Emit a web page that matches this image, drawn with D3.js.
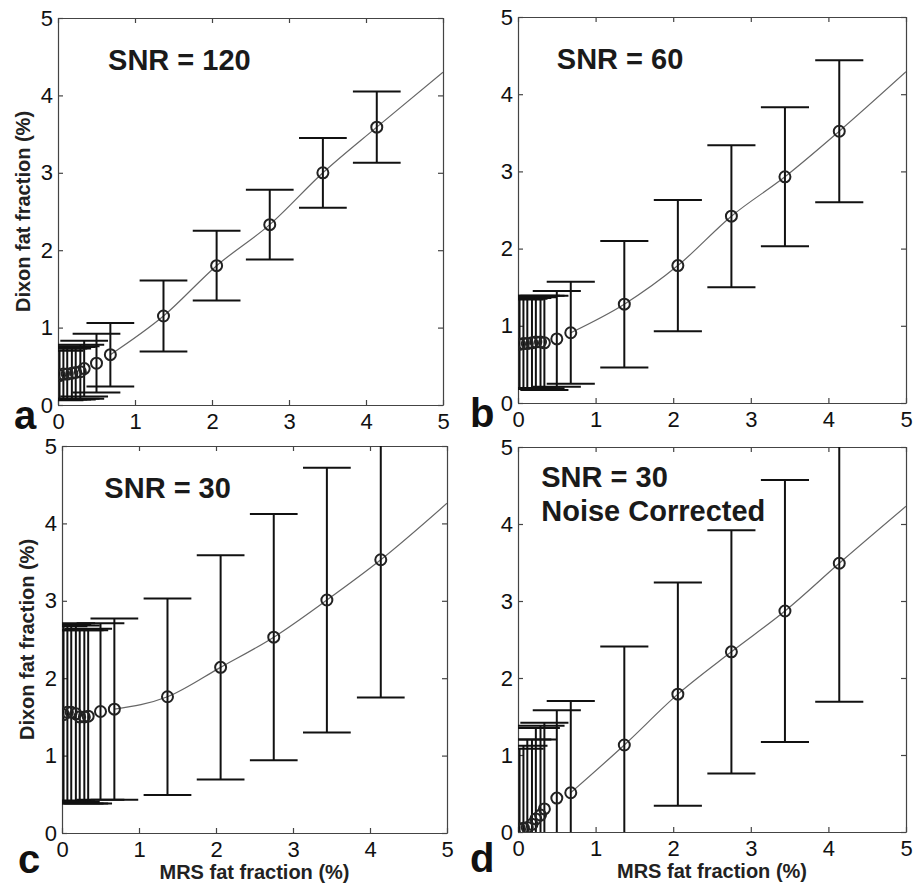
<!DOCTYPE html>
<html>
<head>
<meta charset="utf-8">
<script src="https://cdn.jsdelivr.net/npm/d3@7"></script>
<style>
  body { margin: 0; background: #fff; }
  svg { display: block; font-family: "Liberation Sans", Arial, sans-serif; }
</style>
</head>
<body>
<svg id="chart" width="915" height="891"></svg>
<script>
// MRS fat fraction (%) of each simulated sample, shared by all panels
const mrsFraction = [0.02, 0.07, 0.12, 0.18, 0.23, 0.29, 0.34, 0.5, 0.68, 1.37, 2.06, 2.75, 3.44, 4.14];

// Dixon fat fraction: mean and standard deviation per sample
const meanSnr120 = [0.38, 0.40, 0.40, 0.41, 0.42, 0.43, 0.47, 0.54, 0.65, 1.15, 1.80, 2.33, 3.00, 3.59];
const sdSnr120   = [0.32, 0.33, 0.33, 0.34, 0.34, 0.35, 0.36, 0.38, 0.41, 0.46, 0.45, 0.45, 0.45, 0.46];

const meanSnr60 = [0.76, 0.77, 0.77, 0.78, 0.79, 0.79, 0.78, 0.83, 0.91, 1.28, 1.78, 2.42, 2.93, 3.52];
const sdSnr60   = [0.58, 0.58, 0.59, 0.59, 0.60, 0.60, 0.61, 0.62, 0.66, 0.82, 0.85, 0.92, 0.90, 0.92];

const meanSnr30 = [1.53, 1.56, 1.56, 1.54, 1.50, 1.50, 1.51, 1.57, 1.60, 1.76, 2.14, 2.53, 3.01, 3.53];
const sdSnr30   = [1.14, 1.14, 1.15, 1.14, 1.12, 1.12, 1.13, 1.14, 1.17, 1.27, 1.45, 1.59, 1.71, 1.78];

const meanCorrected = [0.04, 0.05, 0.06, 0.10, 0.17, 0.22, 0.30, 0.44, 0.51, 1.13, 1.79, 2.34, 2.87, 3.49];
const sdCorrected   = [1.04, 1.07, 1.14, 1.10, 1.18, 1.16, 1.12, 1.14, 1.19, 1.28, 1.45, 1.58, 1.70, 1.80];

// fitted curve: starts at this sample and runs to x = 5
const fitStart = 8;
const fitEndX = 5;
const fitEndY = [4.30, 4.29, 4.26, 4.23];

const panelTitles = [['SNR = 120'], ['SNR = 60'], ['SNR = 30'], ['SNR = 30', 'Noise Corrected']];
const panelLetters = ['a', 'b', 'c', 'd'];
const axisTicks = [0, 1, 2, 3, 4, 5];
const xLabel = 'MRS fat fraction (%)';
const yLabel = 'Dixon fat fraction (%)';

const means = [meanSnr120, meanSnr60, meanSnr30, meanCorrected];
const sds = [sdSnr120, sdSnr60, sdSnr30, sdCorrected];

// panel frames in pixels
const frames = [
    {left: 58, right: 443, top: 18, bottom: 405, titleX: 0.65, yTitle: true, xTitle: false},
    {left: 518, right: 906, top: 17, bottom: 403, titleX: 0.5, yTitle: false, xTitle: false},
    {left: 62, right: 447, top: 446, bottom: 833, titleX: 0.55, yTitle: true, xTitle: true},
    {left: 518, right: 906, top: 447, bottom: 832, titleX: 0.3, yTitle: false, xTitle: true}
];

const svg = d3.select('#chart');
const capHalf = 0.31;   // error bar tee half width, data units
const tickLen = 5;

frames.forEach(function (f, p) {
    const x = d3.scaleLinear().domain([0, 5]).range([f.left, f.right]);
    const y = d3.scaleLinear().domain([0, 5]).range([f.bottom, f.top]);
    const g = svg.append('g');

    const clipId = 'clip' + p;
    svg.append('clipPath').attr('id', clipId)
        .append('rect')
        .attr('x', f.left).attr('y', f.top)
        .attr('width', f.right - f.left).attr('height', f.bottom - f.top);

    // axes, MATLAB style: inward ticks on all four sides
    const fmt = d3.format('d');
    const axes = [
        d3.axisBottom(x).tickValues(axisTicks).tickFormat(fmt).tickSizeInner(-tickLen).tickSizeOuter(0).tickPadding(8),
        d3.axisLeft(y).tickValues(axisTicks).tickFormat(fmt).tickSizeInner(-tickLen).tickSizeOuter(0).tickPadding(5),
        d3.axisTop(x).tickValues(axisTicks).tickSizeInner(-tickLen).tickSizeOuter(0).tickFormat(''),
        d3.axisRight(y).tickValues(axisTicks).tickSizeInner(-tickLen).tickSizeOuter(0).tickFormat('')
    ];
    const shifts = [[0, f.bottom], [f.left, 0], [0, f.top], [f.right, 0]];
    axes.forEach(function (ax, i) {
        const a = g.append('g')
            .attr('transform', 'translate(' + shifts[i][0] + ',' + shifts[i][1] + ')')
            .call(ax);
        a.select('.domain').attr('stroke', '#444').attr('stroke-width', 1.2);
        a.selectAll('.tick line').attr('stroke', '#444').attr('stroke-width', 1.2);
        a.selectAll('.tick text')
            .attr('font-size', 22)
            .attr('fill', '#111')
            .attr('font-family', '"Liberation Sans", Arial, sans-serif');
    });

    const plot = g.append('g').attr('clip-path', 'url(#' + clipId + ')');
    const rows = mrsFraction.map(function (m, i) {
        return {x: m, mean: means[p][i], sd: sds[p][i]};
    });

    // fitted curve
    const fitRows = rows.slice(fitStart).map(function (r) { return [r.x, r.mean]; });
    fitRows.push([fitEndX, fitEndY[p]]);
    plot.append('path')
        .datum(fitRows)
        .attr('fill', 'none')
        .attr('stroke', '#666')
        .attr('stroke-width', 1.2)
        .attr('d', d3.line()
            .x(function (d) { return x(d[0]); })
            .y(function (d) { return y(d[1]); })
            .curve(d3.curveMonotoneX));

    // error bars
    const bars = plot.selectAll('g.bar').data(rows).enter().append('g').attr('class', 'bar')
        .attr('stroke', '#111').attr('stroke-width', 2);
    bars.append('line')
        .attr('x1', function (d) { return x(d.x); })
        .attr('x2', function (d) { return x(d.x); })
        .attr('y1', function (d) { return y(d.mean - d.sd); })
        .attr('y2', function (d) { return y(d.mean + d.sd); });
    [-1, 1].forEach(function (s) {
        bars.append('line')
            .attr('x1', function (d) { return x(d.x - capHalf); })
            .attr('x2', function (d) { return x(d.x + capHalf); })
            .attr('y1', function (d) { return y(d.mean + s * d.sd); })
            .attr('y2', function (d) { return y(d.mean + s * d.sd); });
    });

    // markers
    plot.selectAll('circle').data(rows).enter().append('circle')
        .attr('cx', function (d) { return x(d.x); })
        .attr('cy', function (d) { return y(d.mean); })
        .attr('r', 5.5)
        .attr('fill', 'none')
        .attr('stroke', '#222')
        .attr('stroke-width', 2);

    // panel title
    const multi = panelTitles[p].length > 1;
    const title = g.append('text')
        .attr('y', f.top + (multi ? 40 : 52))
        .attr('font-size', 29)
        .attr('font-weight', 'bold')
        .attr('fill', '#1a1a1a');
    panelTitles[p].forEach(function (t, i) {
        title.append('tspan')
            .attr('x', x(f.titleX))
            .attr('dy', i === 0 ? 0 : 34)
            .text(t);
    });

    // panel letter
    g.append('text')
        .attr('x', f.left - (p % 2 === 0 ? 44 : 48))
        .attr('y', p < 2 ? f.bottom + 24 : f.bottom + 40)
        .attr('font-size', 40)
        .attr('font-weight', 'bold')
        .attr('fill', '#111')
        .text(panelLetters[p]);

    if (f.yTitle) {
        g.append('text')
            .attr('transform', 'translate(' + (f.left - 35) + ',' + ((f.top + f.bottom) / 2) + ') rotate(-90)')
            .attr('text-anchor', 'middle')
            .attr('dominant-baseline', 'central')
            .attr('font-size', 20)
            .attr('font-weight', 'bold')
            .attr('fill', '#222')
            .text(yLabel);
    }
    if (f.xTitle) {
        g.append('text')
            .attr('x', (f.left + f.right) / 2)
            .attr('y', f.bottom + 46)
            .attr('text-anchor', 'middle')
            .attr('font-size', 20)
            .attr('font-weight', 'bold')
            .attr('fill', '#222')
            .text(xLabel);
    }
});
</script>
</body>
</html>
